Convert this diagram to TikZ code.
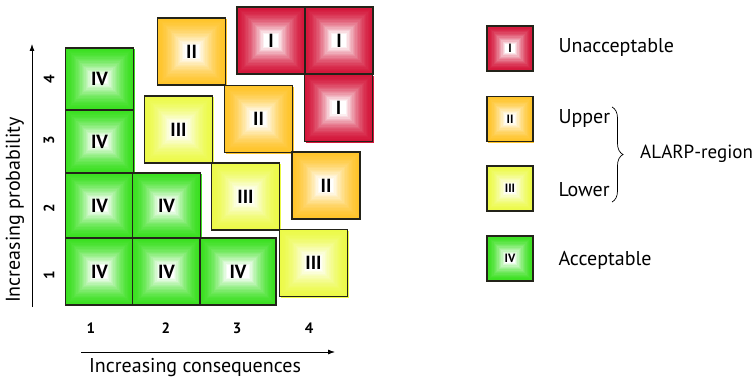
\documentclass[tikz,border=0pt]{standalone}
\usepackage{fontspec}
\setmainfont{PT Sans}
\usetikzlibrary{decorations.pathreplacing,arrows.meta,shadows}

\definecolor{riskred}{RGB}{212,22,58}
\definecolor{riskorange}{RGB}{255,196,42}
\definecolor{riskyellow}{RGB}{236,250,72}
\definecolor{riskgreen}{RGB}{58,224,32}
\definecolor{edgedark}{RGB}{35,35,25}

\tikzset{
  riskbox/.style={draw=edgedark, line width=1.5pt, inner sep=0pt,
    minimum width=68pt, minimum height=67pt,
    font=\bfseries\fontsize{19}{19}\selectfont,
    drop shadow={shadow xshift=1.3pt, shadow yshift=-1.3pt, fill=#1, opacity=1},
    path picture={
      \foreach \k [evaluate=\k as \p using int(100*(1-(\k/20)^1.6))] in {0,...,20}
        \fill[#1!\p!white] ([shift={({\k*1.35pt},{\k*1.35pt})}]path picture bounding box.south west)
          rectangle ([shift={({-\k*1.35pt},{-\k*1.35pt})}]path picture bounding box.north east);
    }},
  keybox/.style={riskbox=#1, line width=1.2pt, minimum width=46pt, minimum height=45pt,
    font=\bfseries\fontsize{12}{12}\selectfont,
    path picture={
      \foreach \k [evaluate=\k as \p using int(100*(1-(\k/14)^1.6))] in {0,...,14}
        \fill[#1!\p!white] ([shift={({\k*1.3pt},{\k*1.3pt})}]path picture bounding box.south west)
          rectangle ([shift={({-\k*1.3pt},{-\k*1.3pt})}]path picture bounding box.north east);
    }},
  axisnum/.style={font=\bfseries\fontsize{15}{15}\selectfont},
  textlabel/.style={font=\fontsize{20}{20}\selectfont}
}

\begin{document}
\begin{tikzpicture}[x=1pt,y=-1pt]
  \useasboundingbox (0,0) rectangle (755,382);

  % acceptable cells
  \node[riskbox=riskgreen, minimum height=62pt] (g14) at (99.5,79) {IV};
  \node[riskbox=riskgreen, minimum height=63pt] (g13) at (99.5,141.5) {IV};
  \node[riskbox=riskgreen, minimum height=65pt] (g12) at (99.5,205.5) {IV};
  \node[riskbox=riskgreen, minimum height=65pt] (g22) at (166.5,205.5) {IV};
  \node[riskbox=riskgreen] (g11) at (99.5,271.5) {IV};
  \node[riskbox=riskgreen] (g21) at (166.5,271.5) {IV};
  \node[riskbox=riskgreen, minimum width=76pt] (g31) at (238,271.5) {IV};

  % lower ALARP cells
  \node[riskbox=riskyellow] (y23) at (178.5,129.5) {III};
  \node[riskbox=riskyellow] (y32) at (245.5,196.5) {III};
  \node[riskbox=riskyellow] (y41) at (313.5,263) {III};

  % upper ALARP cells
  \node[riskbox=riskorange] (o24) at (191.5,51.5) {II};
  \node[riskbox=riskorange] (o33) at (258.5,119) {II};
  \node[riskbox=riskorange] (o42) at (326,185.5) {II};

  % unacceptable cells
  \node[riskbox=riskred] (r34) at (271,40.5) {I};
  \node[riskbox=riskred] (r44) at (339,40.5) {I};
  \node[riskbox=riskred] (r43) at (338.5,108) {I};

  % axes
  \coordinate (ybot) at (32,307);
  \coordinate (ytop) at (32,44);
  \coordinate (xleft) at (81,352);
  \coordinate (xright) at (335,352);
  \draw[line width=0.8pt, -{Latex[length=7pt,width=5pt]}] (ybot) -- (ytop);
  \draw[line width=0.8pt, -{Latex[length=7pt,width=5pt]}] (xleft) -- (xright);
  \node[textlabel, rotate=90] (ylabel) at (15,210) {Increasing probability};
  \node[textlabel] (xlabel) at (195,368) {Increasing consequences};

  \foreach \n/\x in {1/91,2/166,3/237,4/309}
    \node[axisnum] (cons\n) at (\x,328) {\n};
  \foreach \n/\y in {1/275,2/208,3/140,4/79}
    \node[axisnum, rotate=90] (prob\n) at (49,\y) {\n};

  % legend
  \node[keybox=riskred] (keyI) at (510,48.5) {I};
  \node[keybox=riskorange] (keyII) at (510,119) {II};
  \node[keybox=riskyellow] (keyIII) at (510,188.5) {III};
  \node[keybox=riskgreen] (keyIV) at (510,258.5) {IV};
  \node[textlabel, anchor=west] (unacc) at (555,48) {Unacceptable};
  \node[textlabel, anchor=west] (upper) at (555,119) {Upper};
  \node[textlabel, anchor=west] (lower) at (555,190) {Lower};
  \node[textlabel, anchor=west] (acc) at (555,260) {Acceptable};

  \coordinate (bracetop) at (612,107);
  \coordinate (bracebot) at (612,202);
  \draw[line width=0.7pt, decorate, decoration={brace, amplitude=11pt}] (bracetop) -- (bracebot);
  \node[textlabel, font=\fontsize{19}{19}\selectfont, anchor=west, inner sep=1pt] (alarp) at (639,154) {ALARP-region};
\end{tikzpicture}
\end{document}
